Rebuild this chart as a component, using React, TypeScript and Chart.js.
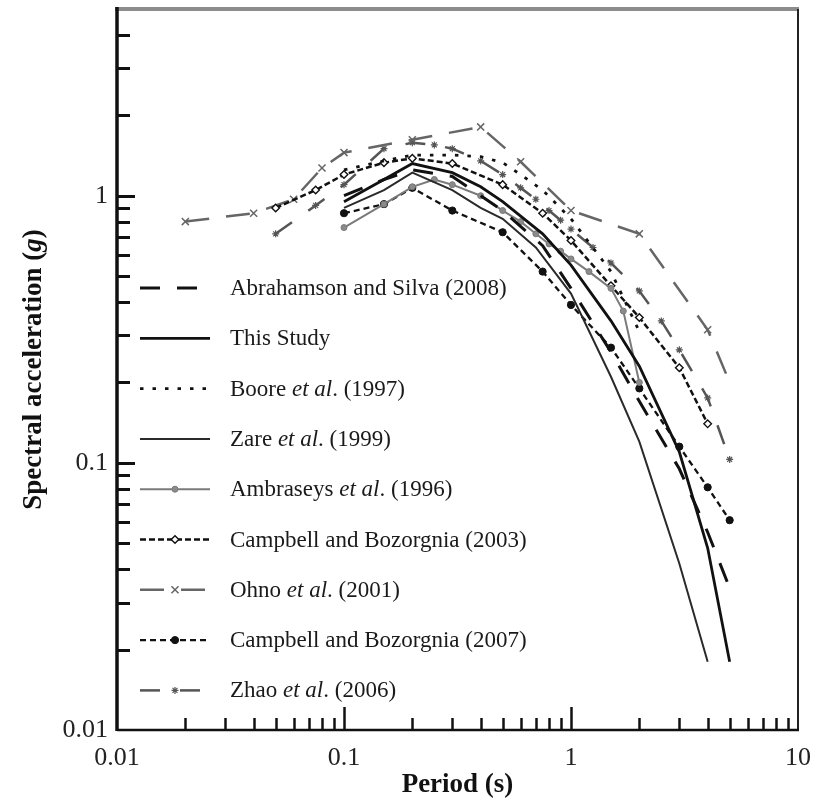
import { useEffect, useRef } from "react";
import { Chart, registerables } from "chart.js";
import { drawPoint } from "chart.js/helpers";

Chart.register(...registerables);

// Spectral acceleration (g) against period (s) for each prediction model
const periodsAbrahamson = [0.1, 0.15, 0.2, 0.3, 0.4, 0.5, 0.75, 1, 1.5, 2, 3, 4, 5];
const saAbrahamson = [1.0, 1.15, 1.25, 1.18, 1.0, 0.88, 0.65, 0.45, 0.26, 0.17, 0.095, 0.055, 0.034];

const periodsThisStudy = [0.1, 0.15, 0.2, 0.3, 0.4, 0.5, 0.75, 1, 1.5, 2, 3, 4, 5];
const saThisStudy = [0.95, 1.15, 1.32, 1.22, 1.08, 0.95, 0.72, 0.55, 0.34, 0.23, 0.11, 0.048, 0.018];

const periodsBoore = [0.1, 0.15, 0.2, 0.3, 0.4, 0.5, 0.6, 0.75, 1, 1.5, 2];
const saBoore = [1.25, 1.35, 1.42, 1.42, 1.4, 1.33, 1.2, 1.05, 0.82, 0.52, 0.31];

const periodsZare = [0.1, 0.15, 0.2, 0.3, 0.4, 0.5, 0.7, 1, 1.5, 2, 3, 4];
const saZare = [0.9, 1.05, 1.22, 1.05, 0.9, 0.82, 0.64, 0.43, 0.21, 0.12, 0.042, 0.018];

const periodsAmbraseys = [0.1, 0.15, 0.2, 0.25, 0.3, 0.4, 0.5, 0.6, 0.7, 0.8, 0.9, 1.0, 1.2, 1.5, 1.7, 2.0];
const saAmbraseys = [0.76, 0.93, 1.08, 1.15, 1.1, 1.0, 0.88, 0.8, 0.72, 0.66, 0.62, 0.58, 0.52, 0.45, 0.37, 0.2];

const periodsCampbell03 = [0.05, 0.075, 0.1, 0.15, 0.2, 0.3, 0.5, 0.75, 1, 1.5, 2, 3, 4];
const saCampbell03 = [0.9, 1.05, 1.2, 1.33, 1.38, 1.32, 1.1, 0.86, 0.68, 0.46, 0.35, 0.227, 0.14];

const periodsOhno = [0.02, 0.04, 0.06, 0.08, 0.1, 0.2, 0.4, 0.6, 1, 2, 4, 5];
const saOhno = [0.8, 0.86, 0.97, 1.27, 1.45, 1.62, 1.81, 1.34, 0.88, 0.72, 0.315, 0.2];

const periodsCampbell07 = [0.1, 0.15, 0.2, 0.3, 0.5, 0.75, 1, 1.5, 2, 3, 4, 5];
const saCampbell07 = [0.86, 0.93, 1.07, 0.88, 0.73, 0.52, 0.39, 0.27, 0.19, 0.115, 0.081, 0.061];

const periodsZhao = [0.05, 0.075, 0.1, 0.15, 0.2, 0.25, 0.3, 0.4, 0.5, 0.6, 0.7, 0.8, 0.9, 1, 1.25, 1.5, 2, 2.5, 3, 4, 5];
const saZhao = [0.72, 0.92, 1.1, 1.5, 1.58, 1.55, 1.5, 1.35, 1.2, 1.07, 0.97, 0.88, 0.81, 0.75, 0.64, 0.56, 0.44, 0.34, 0.265, 0.175, 0.103];

// Axis labels
const xTickLabels = [0.01, 0.1, 1, 10];
const yTickLabels = [0.01, 0.1, 1];

// Legend texts; italic parts flagged
type Part = { t: string; i?: boolean };
const legendTexts: Part[][] = [
  [{ t: "Abrahamson and Silva (2008)" }],
  [{ t: "This Study" }],
  [{ t: "Boore " }, { t: "et al", i: true }, { t: ". (1997)" }],
  [{ t: "Zare " }, { t: "et al", i: true }, { t: ". (1999)" }],
  [{ t: "Ambraseys " }, { t: "et al", i: true }, { t: ". (1996)" }],
  [{ t: "Campbell and Bozorgnia (2003)" }],
  [{ t: "Ohno " }, { t: "et al", i: true }, { t: ". (2001)" }],
  [{ t: "Campbell and Bozorgnia (2007)" }],
  [{ t: "Zhao " }, { t: "et al", i: true }, { t: ". (2006)" }],
];

const SERIF = '"Liberation Serif", "Times New Roman", serif';

type Style = {
  color: string;
  width: number;
  dash: number[];
  marker?: string;
  radius?: number;
  fill?: string;
  markerBorder?: number;
};

const styles: Style[] = [
  { color: "#111", width: 3, dash: [20, 17] },
  { color: "#111", width: 2.8, dash: [] },
  { color: "#111", width: 2.8, dash: [3.5, 9] },
  { color: "#2a2a2a", width: 2, dash: [] },
  { color: "#7a7a7a", width: 2, dash: [], marker: "circle", radius: 3, fill: "#8a8a8a", markerBorder: 1 },
  { color: "#111", width: 2.5, dash: [6, 3], marker: "rectRot", radius: 3.8, fill: "#fff", markerBorder: 1.4 },
  { color: "#666", width: 2.5, dash: [24, 17], marker: "crossRot", radius: 5, fill: "#666", markerBorder: 1.5 },
  { color: "#111", width: 2.3, dash: [6, 4], marker: "circle", radius: 3.6, fill: "#111", markerBorder: 1 },
  { color: "#555", width: 2.5, dash: [20, 20], marker: "star", radius: 3.5, fill: "#999", markerBorder: 1.2 },
];

const seriesPeriods = [periodsAbrahamson, periodsThisStudy, periodsBoore, periodsZare, periodsAmbraseys, periodsCampbell03, periodsOhno, periodsCampbell07, periodsZhao];
const seriesValues = [saAbrahamson, saThisStudy, saBoore, saZare, saAmbraseys, saCampbell03, saOhno, saCampbell07, saZhao];

const LEGEND_LINE_X0 = 140;
const LEGEND_LINE_X1 = 210;
const LEGEND_TEXT_X = 230;
const LEGEND_TOP = 288;
const LEGEND_STEP = 50.3;

function drawMarker(ctx: CanvasRenderingContext2D, s: Style, x: number, y: number) {
  if (!s.marker) return;
  ctx.save();
  ctx.setLineDash([]);
  ctx.fillStyle = s.fill || s.color;
  ctx.strokeStyle = s.color;
  ctx.lineWidth = s.markerBorder || 1;
  drawPoint(ctx, { pointStyle: s.marker as any, rotation: 0, radius: s.radius || 3, borderWidth: s.markerBorder || 1 }, x, y);
  ctx.restore();
}

const framePlugin = {
  id: "spectraFrame",
  afterDraw(chart: any) {
    const { ctx, chartArea } = chart;
    const { left, right, top, bottom } = chartArea;
    const xs = chart.scales.x;
    const ys = chart.scales.y;
    ctx.save();
    ctx.setLineDash([]);
    ctx.lineCap = "butt";

    // inward tick marks on the y axis
    ctx.strokeStyle = "#111";
    for (const d of [0.01, 0.1, 1]) {
      for (let m = 1; m <= 9; m++) {
        const v = m * d;
        if (v > 5.0001) break;
        if (m === 1 && d === 0.01) continue;
        const py = Math.round(ys.getPixelForValue(v)) + 0.5;
        const len = m === 1 ? 18 : 13;
        ctx.lineWidth = 3;
        ctx.beginPath();
        ctx.moveTo(left, py);
        ctx.lineTo(left + len, py);
        ctx.stroke();
      }
    }
    // inward tick marks on the x axis
    for (const d of [0.01, 0.1, 1]) {
      for (let m = 1; m <= 9; m++) {
        const v = m * d;
        if (m === 1 && d === 0.01) continue;
        const px = Math.round(xs.getPixelForValue(v)) + 0.5;
        const len = m === 1 ? 23 : 12;
        ctx.lineWidth = 2.5;
        ctx.beginPath();
        ctx.moveTo(px, bottom);
        ctx.lineTo(px, bottom - len);
        ctx.stroke();
      }
    }

    // plot frame
    ctx.strokeStyle = "#8c8c8c";
    ctx.lineWidth = 4;
    ctx.beginPath();
    ctx.moveTo(left - 2, top);
    ctx.lineTo(right + 1, top);
    ctx.stroke();
    ctx.strokeStyle = "#222";
    ctx.lineWidth = 2;
    ctx.beginPath();
    ctx.moveTo(right, top);
    ctx.lineTo(right, bottom);
    ctx.stroke();
    ctx.strokeStyle = "#111";
    ctx.lineWidth = 2.5;
    ctx.beginPath();
    ctx.moveTo(left, bottom);
    ctx.lineTo(right + 1, bottom);
    ctx.stroke();
    ctx.lineWidth = 3.5;
    ctx.beginPath();
    ctx.moveTo(left, top - 2);
    ctx.lineTo(left, bottom + 1);
    ctx.stroke();

    // axis titles
    ctx.fillStyle = "#111";
    ctx.textBaseline = "middle";
    ctx.textAlign = "center";
    ctx.font = `bold 27px ${SERIF}`;
    ctx.fillText("Period (s)", (left + right) / 2, 785);

    ctx.save();
    ctx.translate(34, (top + bottom) / 2);
    ctx.rotate(-Math.PI / 2);
    const main = "Spectral acceleration (";
    const gPart = "g";
    const tail = ")";
    ctx.font = `bold 27px ${SERIF}`;
    const w1 = ctx.measureText(main).width;
    const w3 = ctx.measureText(tail).width;
    ctx.font = `italic bold 27px ${SERIF}`;
    const w2 = ctx.measureText(gPart).width;
    let tx = -(w1 + w2 + w3) / 2;
    ctx.textAlign = "left";
    ctx.font = `bold 27px ${SERIF}`;
    ctx.fillText(main, tx, 0);
    tx += w1;
    ctx.font = `italic bold 27px ${SERIF}`;
    ctx.fillText(gPart, tx, 0);
    tx += w2;
    ctx.font = `bold 27px ${SERIF}`;
    ctx.fillText(tail, tx, 0);
    ctx.restore();

    // legend
    styles.forEach((s, i) => {
      const yRow = LEGEND_TOP + i * LEGEND_STEP;
      ctx.save();
      ctx.strokeStyle = s.color;
      ctx.lineWidth = s.width;
      ctx.setLineDash(s.dash);
      ctx.beginPath();
      ctx.moveTo(LEGEND_LINE_X0, yRow);
      ctx.lineTo(LEGEND_LINE_X1, yRow);
      ctx.stroke();
      ctx.restore();
      drawMarker(ctx, s, (LEGEND_LINE_X0 + LEGEND_LINE_X1) / 2, yRow);

      let x = LEGEND_TEXT_X;
      ctx.fillStyle = "#1a1a1a";
      ctx.textAlign = "left";
      ctx.textBaseline = "middle";
      for (const p of legendTexts[i]) {
        ctx.font = `${p.i ? "italic " : ""}23px ${SERIF}`;
        ctx.fillText(p.t, x, yRow + 1);
        x += ctx.measureText(p.t).width;
      }
    });
    ctx.restore();
  },
};

export default function App() {
  const canvasRef = useRef<HTMLCanvasElement | null>(null);

  useEffect(() => {
    if (!canvasRef.current) return;
    const datasets = styles.map((s, i) => {
      const periods = seriesPeriods[i];
      const values = seriesValues[i];
      const lastIdx = periods.length - 1;
      const isOhno = i === 6;
      return {
        label: legendTexts[i].map((p) => p.t).join(""),
        data: periods.map((t, k) => ({ x: t, y: values[k] })),
        borderColor: s.color,
        borderWidth: s.width,
        borderDash: s.dash,
        backgroundColor: s.fill || s.color,
        pointStyle: s.marker || false,
        pointRadius: s.marker
          ? (ctx: any) => (isOhno && ctx.dataIndex === lastIdx ? 0 : s.radius)
          : 0,
        pointBorderColor: s.color,
        pointBackgroundColor: s.fill || s.color,
        pointBorderWidth: s.markerBorder || 1,
        tension: 0,
        fill: false,
      };
    });

    const chart = new Chart(canvasRef.current, {
      type: "line",
      data: { datasets: datasets as any },
      options: {
        responsive: false,
        animation: false,
        devicePixelRatio: 1,
        layout: { padding: { top: 9, right: 30, left: 0, bottom: 0 } },
        plugins: {
          legend: { display: false },
          tooltip: { enabled: false },
        },
        scales: {
          x: {
            type: "logarithmic",
            min: 0.01,
            max: 10,
            afterBuildTicks: (s: any) => {
              s.ticks = xTickLabels.map((v) => ({ value: v }));
            },
            afterFit: (s: any) => {
              s.height = 71;
              s.paddingLeft = 0;
              s.paddingRight = 0;
            },
            grid: { display: false, drawTicks: false },
            border: { display: false },
            ticks: {
              autoSkip: false,
              maxRotation: 0,
              padding: 13,
              color: "#222",
              font: { family: SERIF, size: 26 },
              callback: (v: any) => String(v),
            },
          },
          y: {
            type: "logarithmic",
            min: 0.01,
            max: 5,
            afterBuildTicks: (s: any) => {
              s.ticks = yTickLabels.map((v) => ({ value: v }));
            },
            afterFit: (s: any) => {
              s.width = 117;
              s.paddingTop = 0;
              s.paddingBottom = 0;
            },
            grid: { display: false, drawTicks: false },
            border: { display: false },
            ticks: {
              autoSkip: false,
              padding: 9,
              color: "#222",
              font: { family: SERIF, size: 26 },
              callback: (v: any) => String(v),
            },
          },
        },
      },
      plugins: [framePlugin],
    });
    return () => chart.destroy();
  }, []);

  return (
    <div style={{ position: "fixed", left: 0, top: 0, width: 828, height: 801, background: "#fff" }}>
      <canvas ref={canvasRef} width={828} height={801} />
    </div>
  );
}
